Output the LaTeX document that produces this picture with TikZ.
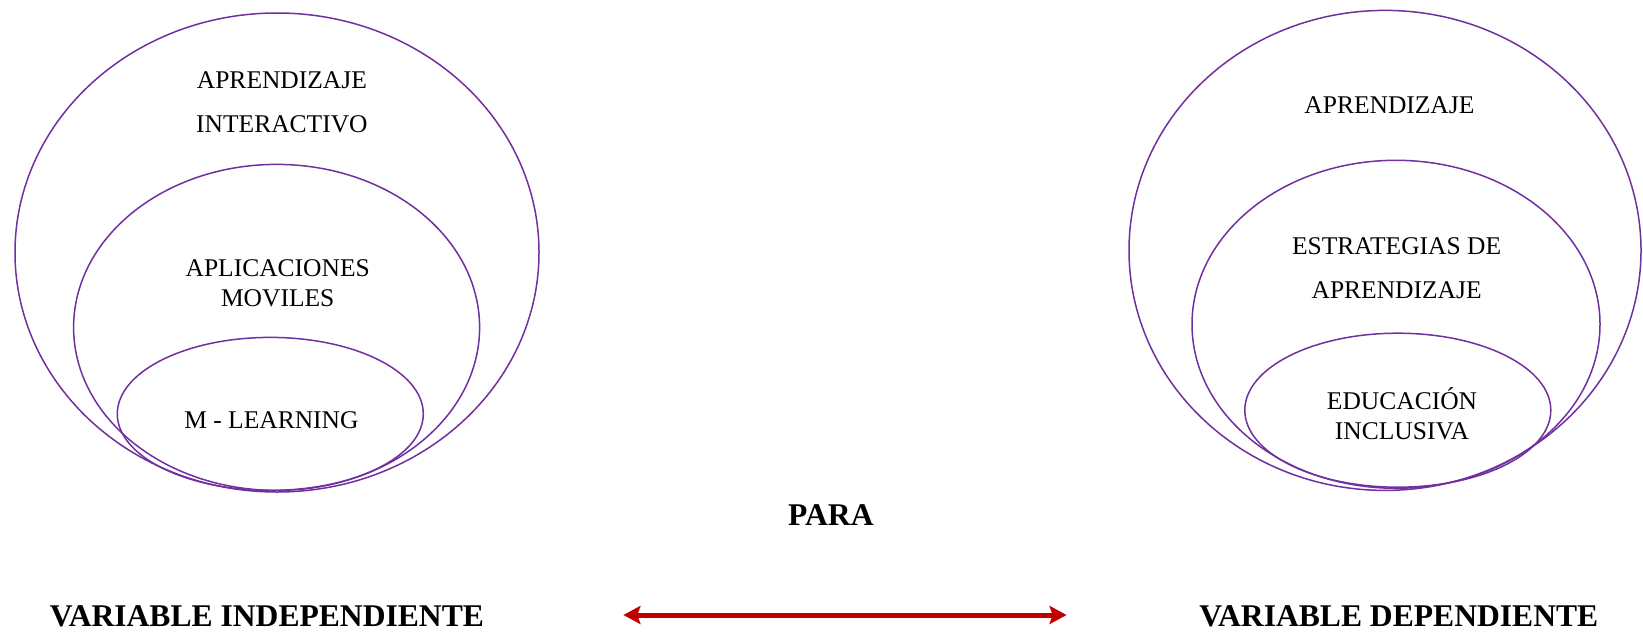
\documentclass[tikz,border=0pt]{standalone}
\usepackage{fontspec}
\setmainfont{Liberation Serif}
\usetikzlibrary{shapes.geometric,arrows.meta}
\definecolor{vio}{RGB}{112,48,160}
\definecolor{dred}{RGB}{192,0,0}
\begin{document}
\begin{tikzpicture}[x=1pt,y=-1pt,
  ring/.style={draw=vio,line width=1.5pt,ellipse,inner sep=0pt,outer sep=0pt},
  lbl/.style={align=center,font=\fontsize{25.5}{30}\selectfont,inner sep=0pt},
  var/.style={font=\fontsize{31.6}{36}\selectfont\bfseries,inner sep=0pt},
  tip/.tip={Stealth[length=17pt,width=18pt,inset=3pt]}]
\useasboundingbox (0,0) rectangle (1643,634);
% left group
\node[ring,minimum width=524,minimum height=479] (L1) at (277,252.5) {};
\node[ring,minimum width=406,minimum height=326] (L2) at (276.6,327.4) {};
\node[ring,minimum width=306,minimum height=153] (L3) at (270.3,413.9) {};
\node[lbl] (tL1) at (281.9,102.7) {APRENDIZAJE\\[14pt]INTERACTIVO};
\node[lbl] (tL2) at (277.7,283.4) {APLICACIONES\\MOVILES};
\node[lbl] (tL3) at (271.4,420.2) {M - LEARNING};
% right group
\node[ring,minimum width=512,minimum height=480] (R1) at (1385,250.4) {};
\node[ring,minimum width=408,minimum height=328] (R2) at (1396,324.3) {};
\node[ring,minimum width=306,minimum height=154] (R3) at (1397.8,410.2) {};
\node[lbl] (tR1) at (1389.4,104.8) {APRENDIZAJE};
\node[lbl] (tR2) at (1396.6,267.7) {ESTRATEGIAS DE\\[14pt]APRENDIZAJE};
\node[lbl] (tR3) at (1402,413.8) {EDUCACIÓN\\INCLUSIVA};
% bottom
\node[var] (para) at (830.9,515.5) {PARA};
\node[var] (vi) at (267,616.1) {VARIABLE INDEPENDIENTE};
\node[var] (vd) at (1398.8,616.1) {VARIABLE DEPENDIENTE};
\coordinate (aL) at (623.4,615);
\coordinate (aR) at (1066.6,615);
\draw[dred,line width=5pt,tip-tip] (aL) -- (aR);
\end{tikzpicture}
\end{document}
